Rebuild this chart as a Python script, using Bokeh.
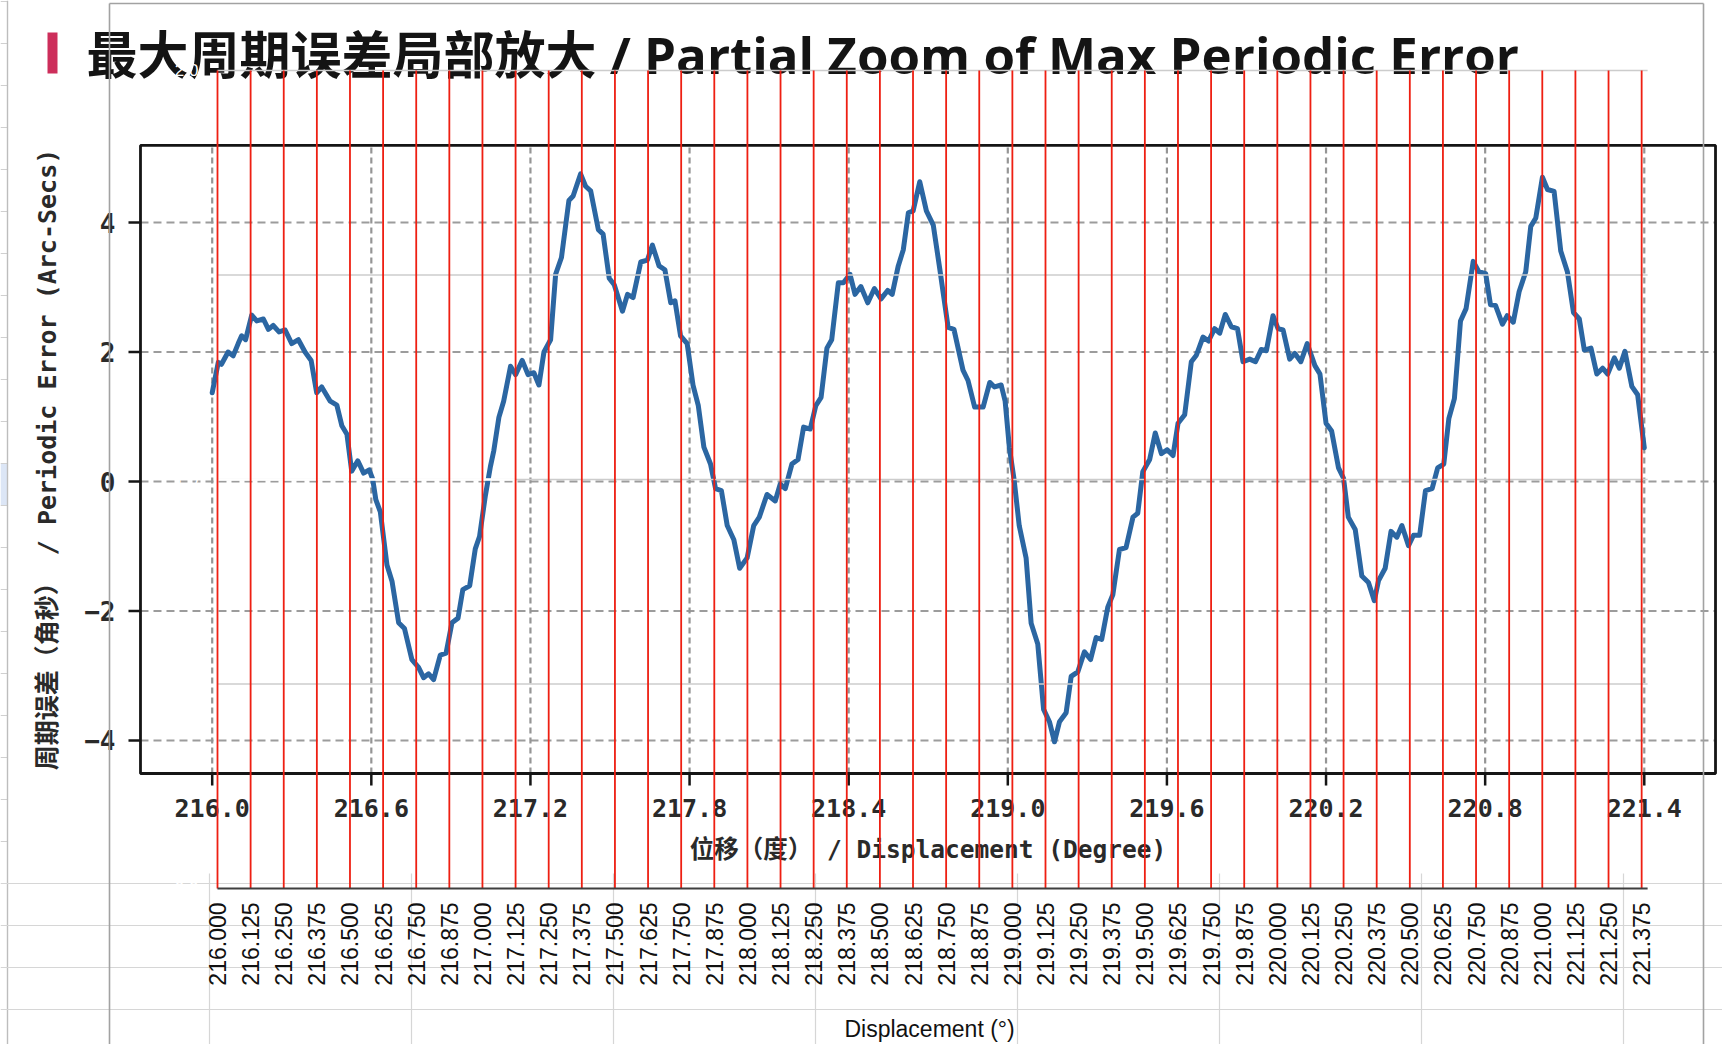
import numpy as np
from bokeh.plotting import figure
from bokeh.models import Range1d
from bokeh.core.properties import value
from bokeh.embed import file_html
from bokeh.resources import INLINE

# ---------------- data ----------------
title_text = "最大周期误差局部放大 / Partial Zoom of Max Periodic Error"
inner_x_label = "位移（度） / Displacement (Degree)"
inner_y_label = "周期误差（角秒） / Periodic Error (Arc-Secs)"

deg_ticks = [216.0, 216.6, 217.2, 217.8, 218.4, 219.0, 219.6, 220.2, 220.8, 221.4]
deg_tick_labels = ["216.0", "216.6", "217.2", "217.8", "218.4",
                   "219.0", "219.6", "220.2", "220.8", "221.4"]
err_ticks = [-4, -2, 0, 2, 4]
err_tick_labels = ["\u22124", "\u22122", "0", "2", "4"]

displacement = [
    216.000, 216.023, 216.035, 216.060, 216.079, 216.098, 216.111, 216.126, 216.149, 216.168,
    216.193, 216.212, 216.230, 216.252, 216.275, 216.300, 216.325, 216.350, 216.373, 216.394,
    216.413, 216.445, 216.470, 216.489, 216.508, 216.526, 216.549, 216.571, 216.592, 216.605,
    216.617, 216.634, 216.659, 216.678, 216.703, 216.725, 216.753, 216.778, 216.797, 216.816,
    216.835, 216.860, 216.882, 216.904, 216.927, 216.945, 216.971, 216.992, 217.008, 217.030,
    217.049, 217.062, 217.081, 217.099, 217.125, 217.144, 217.169, 217.191, 217.213, 217.232,
    217.251, 217.276, 217.295, 217.317, 217.345, 217.361, 217.389, 217.408, 217.427, 217.456,
    217.474, 217.497, 217.516, 217.547, 217.566, 217.587, 217.616, 217.641, 217.660, 217.685,
    217.707, 217.729, 217.745, 217.766, 217.791, 217.813, 217.833, 217.854, 217.879, 217.898,
    217.920, 217.942, 217.967, 217.989, 218.017, 218.042, 218.063, 218.092, 218.123, 218.142,
    218.161, 218.186, 218.209, 218.230, 218.255, 218.276, 218.296, 218.318, 218.336, 218.361,
    218.380, 218.405, 218.424, 218.446, 218.472, 218.497, 218.522, 218.547, 218.564, 218.587,
    218.606, 218.625, 218.643, 218.668, 218.693, 218.719, 218.744, 218.775, 218.797, 218.831,
    218.850, 218.875, 218.907, 218.932, 218.950, 218.975, 218.990, 219.006, 219.024, 219.043,
    219.069, 219.088, 219.113, 219.135, 219.157, 219.176, 219.195, 219.220, 219.239, 219.264,
    219.289, 219.312, 219.333, 219.354, 219.377, 219.396, 219.421, 219.446, 219.472, 219.490,
    219.509, 219.535, 219.556, 219.579, 219.601, 219.623, 219.642, 219.667, 219.692, 219.711,
    219.736, 219.757, 219.780, 219.799, 219.820, 219.843, 219.866, 219.887, 219.912, 219.934,
    219.956, 219.975, 220.000, 220.019, 220.038, 220.063, 220.082, 220.105, 220.129, 220.158,
    220.177, 220.200, 220.221, 220.247, 220.266, 220.284, 220.310, 220.335, 220.360, 220.382,
    220.398, 220.423, 220.445, 220.467, 220.486, 220.511, 220.530, 220.553, 220.575, 220.600,
    220.621, 220.644, 220.663, 220.684, 220.707, 220.728, 220.755, 220.776, 220.802, 220.820,
    220.839, 220.865, 220.883, 220.906, 220.928, 220.953, 220.972, 220.991, 221.016, 221.035,
    221.060, 221.085, 221.110, 221.133, 221.155, 221.174, 221.199, 221.221, 221.243, 221.262,
    221.287, 221.306, 221.327, 221.353, 221.375, 221.400,
]
periodic_error = [
    1.37, 1.84, 1.81, 2.00, 1.94, 2.13, 2.25, 2.19, 2.57, 2.48,
    2.51, 2.35, 2.41, 2.31, 2.34, 2.13, 2.19, 2.00, 1.87, 1.37,
    1.46, 1.24, 1.18, 0.86, 0.73, 0.16, 0.32, 0.13, 0.18, 0.04,
    -0.28, -0.47, -1.29, -1.54, -2.18, -2.27, -2.75, -2.87, -3.03, -2.97,
    -3.06, -2.68, -2.65, -2.18, -2.11, -1.67, -1.61, -1.04, -0.85, -0.22,
    0.23, 0.48, 0.99, 1.24, 1.78, 1.65, 1.87, 1.65, 1.68, 1.49,
    2.00, 2.19, 3.20, 3.46, 4.34, 4.41, 4.75, 4.56, 4.49, 3.89,
    3.82, 3.14, 3.04, 2.63, 2.89, 2.84, 3.39, 3.42, 3.65, 3.33,
    3.27, 2.76, 2.79, 2.25, 2.13, 1.49, 1.17, 0.53, 0.27, -0.11,
    -0.14, -0.68, -0.90, -1.34, -1.18, -0.68, -0.55, -0.20, -0.30, -0.04,
    -0.11, 0.27, 0.34, 0.84, 0.81, 1.17, 1.30, 2.06, 2.19, 3.07,
    3.07, 3.20, 2.89, 3.01, 2.76, 2.98, 2.82, 2.95, 2.89, 3.33,
    3.58, 4.15, 4.18, 4.63, 4.18, 3.96, 3.27, 2.38, 2.35, 1.72,
    1.56, 1.15, 1.15, 1.53, 1.46, 1.49, 1.24, 0.52, 0.02, -0.68,
    -1.18, -2.19, -2.51, -3.52, -3.71, -4.02, -3.71, -3.57, -3.01, -2.94,
    -2.63, -2.75, -2.41, -2.44, -1.94, -1.75, -1.05, -1.02, -0.55, -0.49,
    0.15, 0.34, 0.75, 0.43, 0.49, 0.40, 0.90, 1.03, 1.85, 1.95,
    2.23, 2.17, 2.36, 2.29, 2.58, 2.39, 2.36, 1.85, 1.89, 1.85,
    2.04, 2.02, 2.56, 2.36, 2.34, 1.89, 1.98, 1.85, 2.13, 1.79,
    1.66, 0.90, 0.78, 0.21, 0.05, -0.55, -0.74, -1.46, -1.56, -1.84,
    -1.53, -1.34, -0.77, -0.86, -0.68, -0.99, -0.83, -0.83, -0.14, -0.11,
    0.21, 0.27, 0.97, 1.28, 2.48, 2.67, 3.40, 3.24, 3.21, 2.73,
    2.72, 2.43, 2.56, 2.46, 2.93, 3.24, 3.94, 4.07, 4.70, 4.51,
    4.48, 3.56, 3.24, 2.61, 2.51, 2.03, 2.06, 1.66, 1.75, 1.66,
    1.91, 1.75, 2.01, 1.47, 1.34, 0.52,
]

categories = [
    "216.000", "216.125", "216.250", "216.375", "216.500", "216.625", "216.750", "216.875",
    "217.000", "217.125", "217.250", "217.375", "217.500", "217.625", "217.750", "217.875",
    "218.000", "218.125", "218.250", "218.375", "218.500", "218.625", "218.750", "218.875",
    "219.000", "219.125", "219.250", "219.375", "219.500", "219.625", "219.750", "219.875",
    "220.000", "220.125", "220.250", "220.375", "220.500", "220.625", "220.750", "220.875",
    "221.000", "221.125", "221.250", "221.375",
]
value_ticks = [0.0, 0.5, 1.0, 1.5, 2.0]
value_tick_labels = ["0.0", "0.5", "1.0", "1.5", "2.0"]
drop_line_top = 2.0
white_series_x = [0, 9]
white_series_y = [1.0, 1.0]
cat_axis_title = "Displacement (\u00b0)"

# ---------------- layout ----------------
W, H = 1722, 1044
DEG_RANGE = (215.20173, 221.69495)
ERR_RANGE = (-8.6950, 7.4286)
CAT_RANGE = (-6.5519, 45.441)
VAL_RANGE = (-0.38142, 2.1711)
PAGE_X = (0, W)
PAGE_Y = (H, 0)
BOX_L, BOX_R, BOX_B, BOX_T = 215.7296, 221.6686, -4.51, 5.19
CAT_END = 43.18

MONO = value("'DejaVu Sans Mono', 'Noto Sans CJK SC'")
TITLE_FONT = value("'Open Sans', 'Noto Sans CJK SC'")
ARIAL = value("'Liberation Sans'")

p = figure(width=W, height=H, output_backend="svg", toolbar_location=None,
           x_range=Range1d(*DEG_RANGE), y_range=Range1d(*ERR_RANGE),
           x_axis_location=None, y_axis_location=None, min_border=0,
           outline_line_color=None, background_fill_color="white",
           border_fill_color="white")
p.extra_x_ranges = {"cat": Range1d(*CAT_RANGE), "page": Range1d(*PAGE_X)}
p.extra_y_ranges = {"val": Range1d(*VAL_RANGE), "page": Range1d(*PAGE_Y)}
for g in p.grid:
    g.visible = False

# ---- spreadsheet cells behind everything ----
SHEET = dict(x_range_name="page", y_range_name="page")
header_rows = [1 + 42 * k for k in range(21)]
sheet_rows = [883, 925, 967, 1009]
sheet_cols = [209, 411, 613, 815, 1017, 1219, 1421, 1623]
p.quad(left=0, right=7, top=463, bottom=505, fill_color="#dce6f6",
       line_color=None, **SHEET)
p.segment(x0=0, x1=7, y0=header_rows, y1=header_rows, line_color="#d0d0d0",
          line_width=1.2, **SHEET)
p.segment(x0=[7], x1=[7], y0=[0], y1=[H], line_color="#bdbdbd",
          line_width=1.4, **SHEET)
p.segment(x0=0, x1=W, y0=sheet_rows, y1=sheet_rows, line_color="#d6d6d6",
          line_width=1.2, **SHEET)
p.segment(x0=sheet_cols, x1=sheet_cols, y0=873, y1=H, line_color="#d6d6d6",
          line_width=1.2, **SHEET)

# ---- pasted matplotlib picture ----
p.segment(x0=BOX_L, x1=BOX_R, y0=err_ticks, y1=err_ticks,
          line_color="#9c9c9c", line_width=2.2, line_dash="8 5")
p.segment(x0=deg_ticks, x1=deg_ticks, y0=BOX_B, y1=BOX_T,
          line_color="#959595", line_width=2.2, line_dash="6 4")
p.line(displacement, periodic_error, line_color="#2b66a2", line_width=5,
       line_join="round", line_cap="round")
p.quad(left=BOX_L, right=BOX_R, bottom=BOX_B, top=BOX_T, fill_color=None,
       line_color="#151515", line_width=2.8)
p.ray(x=[BOX_L] * len(err_ticks), y=err_ticks, length=12, length_units="screen",
      angle=np.pi, line_color="#151515", line_width=2.5)
p.ray(x=deg_ticks, y=[BOX_B] * len(deg_ticks), length=12, length_units="screen",
      angle=-np.pi / 2, line_color="#151515", line_width=2.5)

p.text(x=[BOX_L] * len(err_ticks), y=err_ticks, text=err_tick_labels,
       x_offset=-25, text_align="right", text_baseline="middle",
       text_font=MONO, text_font_size="26px", text_font_style="bold",
       text_color="#2a2a2a")
p.text(x=deg_ticks, y=[BOX_B] * len(deg_ticks), text=deg_tick_labels,
       y_offset=34, text_align="center", text_baseline="middle",
       text_font=MONO, text_font_size="25px", text_font_style="bold",
       text_color="#2a2a2a")
p.text(x=[(BOX_L + BOX_R) / 2], y=[BOX_B], text=[inner_x_label], y_offset=76,
       text_align="center", text_baseline="middle", text_font=MONO,
       text_font_size="24.5px", text_font_style="bold", text_color="#2a2a2a")
p.text(x=[BOX_L], y=[(BOX_B + BOX_T) / 2], text=[inner_y_label], x_offset=-93,
       angle=np.pi / 2, text_align="center", text_baseline="middle",
       text_font=MONO, text_font_size="25px", text_font_style="bold",
       text_color="#2a2a2a")

p.quad(left=47, right=57, top=32, bottom=73, fill_color="#cd2e5b",
       line_color=None, **SHEET)
p.text(x=[86], y=[53], text=[title_text], text_align="left",
       text_baseline="alphabetic", text_font=TITLE_FONT, text_font_size="51px",
       text_font_style="bold", text_color="#141414", **SHEET)

# ---- spreadsheet chart drawn on top ----
p.segment(x0=[109, 1703], x1=[109, 1703], y0=3, y1=H, line_color="#a2a2a2",
          line_width=1.6, **SHEET)
p.segment(x0=[109], x1=[1703], y0=[3], y1=[3], line_color="#a2a2a2",
          line_width=1.6, **SHEET)
p.segment(x0=0, x1=CAT_END, y0=value_ticks[1:], y1=value_ticks[1:],
          x_range_name="cat", y_range_name="val", line_color="#cccccc",
          line_width=1.6)
p.line(white_series_x, white_series_y, x_range_name="cat", y_range_name="val",
       line_color="white", line_width=2.5)
cat_idx = list(range(len(categories)))
p.segment(x0=cat_idx, x1=cat_idx, y0=0, y1=drop_line_top, x_range_name="cat",
          y_range_name="val", line_color="#ee1f12", line_width=1.8)
p.segment(x0=[0], x1=[CAT_END], y0=[0], y1=[0], x_range_name="cat",
          y_range_name="val", line_color="#3f3f3f", line_width=2.2)
p.text(x=[0] * len(value_ticks), y=value_ticks, text=value_tick_labels,
       x_range_name="cat", y_range_name="val", x_offset=-19,
       text_align="right", text_baseline="middle", text_font=ARIAL,
       text_font_size="17px", text_color="white")
p.text(x=cat_idx, y=[0] * len(categories), text=categories, x_range_name="cat",
       y_range_name="val", angle=np.pi / 2, y_offset=14, text_align="right",
       text_baseline="middle", text_font=ARIAL, text_font_size="23px",
       text_color="#111111")
p.text(x=[(len(categories) - 1) / 2], y=[0], text=[cat_axis_title],
       x_range_name="cat", y_range_name="val", y_offset=141,
       text_align="center", text_baseline="alphabetic", text_font=ARIAL,
       text_font_size="23px", text_color="#111111")

open("out.html", "w").write(file_html(p, INLINE))
